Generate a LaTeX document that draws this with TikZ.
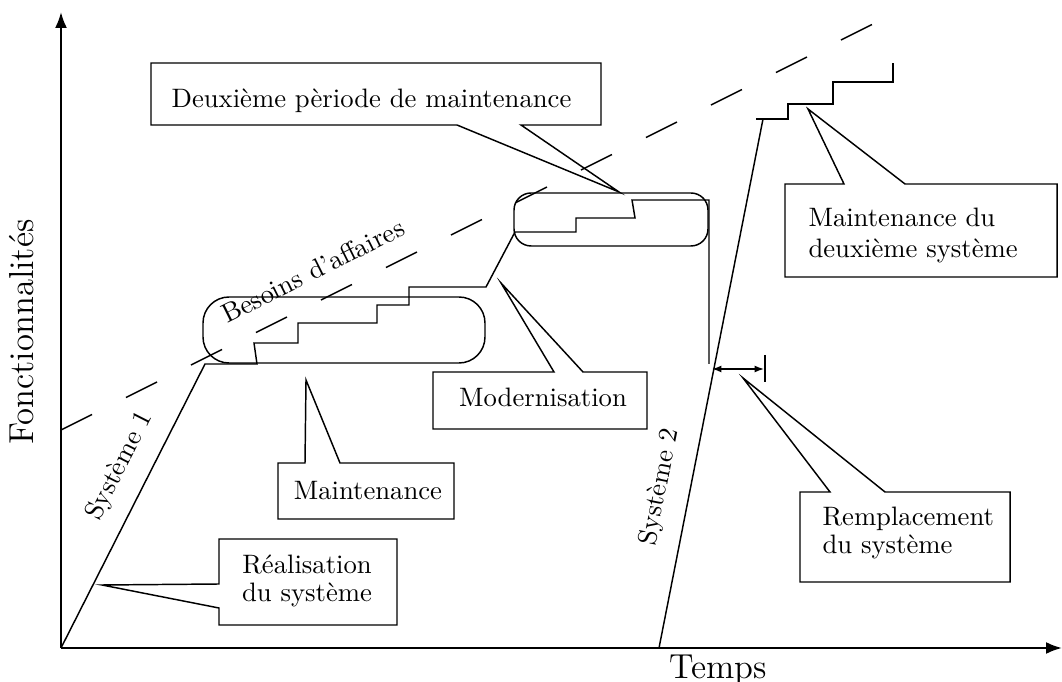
\documentclass[tikz,border=0pt]{standalone}
\usetikzlibrary{arrows.meta}
\begin{document}
\begin{tikzpicture}[x=0.375pt, y=-0.375pt,
  thinline/.style={line width=0.55pt, line join=miter},
  axisline/.style={line width=0.85pt, -{Latex[length=6pt,width=4.5pt]}},
  needline/.style={line width=0.55pt, dash pattern=on 13pt off 14.25pt},
  callout/.style={draw, line width=0.55pt, line join=miter},
  txt/.style={font=\fontsize{10}{10.5}\selectfont, inner sep=0pt},
  axislabel/.style={font=\fontsize{13}{15}\selectfont, inner sep=0pt},
  gap/.style={{Latex[length=3.5pt,width=2.6pt]}-{Latex[length=3.5pt,width=2.6pt]}, line width=0.55pt}
]
\useasboundingbox (0,0) rectangle (1062,682);

% axes
\coordinate (O) at (61,648);
\coordinate (ytip) at (61,12);
\coordinate (xtip) at (1062,648);
\draw[axisline] (O) -- (ytip);
\draw[axisline] (O) -- (xtip);
\node[axislabel, rotate=90] (fonc) at (22,332) {Fonctionnalités};
\node[axislabel, anchor=base] (temps) at (718,679) {Temps};

% business needs trend
\coordinate (need0) at (61,430);
\coordinate (need1) at (877,22);
\draw[needline] (need0) -- (need1);
\node[txt, rotate=26.57, anchor=base] (besoins) at (317,279) {Besoins d’affaires};

% maintenance periods
\draw[thinline, rounded corners=9.75pt] (203,297) rectangle (485,363);
\draw[thinline, rounded corners=6.4pt] (514,193) rectangle (708,246);

% first system: build, maintenance, modernisation, second maintenance
\draw[thinline] (O) -- (205,364) -- (257,364) -- (254,343) -- (298,343)
  -- (298,323) -- (377,323) -- (377,305) -- (409,305) -- (409,287)
  -- (486,287) -- (515,232) -- (576,232) -- (576,218) -- (635,218)
  -- (632,200) -- (709,200) -- (709,364);
\node[txt, rotate=63.1] (sys1) at (120,466) {Système 1};

% second system
\draw[thinline] (659,648) -- (763,119);
\draw[thinline] (756,119) -- (788,119) -- (788,104) -- (833,104)
  -- (833,82) -- (893,82) -- (893,63);
\node[txt, rotate=78.8] (sys2) at (660,487) {Système 2};

% replacement interval
\draw[gap] (712,369) -- (764,369);
\draw[thinline] (765,355) -- (765,382);

% callouts
\draw[callout] (151,63) -- (601,63) -- (601,125) -- (521,125) -- (619,192)
  -- (457,125) -- (151,125) -- cycle;
\node[txt, anchor=base] (deux) at (371.5,108) {Deuxième pèriode de maintenance};

\draw[callout] (785,184) -- (844,184) -- (808,109) -- (905,184) -- (1057,184)
  -- (1057,277) -- (785,277) -- cycle;
\node[txt, anchor=base west, align=left] (maint2) at (808,258)
  {Maintenance du\\[1.2pt]deuxième système};

\draw[callout] (800,492) -- (830,492) -- (743,378) -- (885,492) -- (1010,492)
  -- (1010,582) -- (800,582) -- cycle;
\node[txt, anchor=base west, align=left] (rempl) at (822,554)
  {Remplacement\\du système};

\draw[callout] (433,372) -- (554,372) -- (501,283) -- (583,372) -- (647,372)
  -- (647,429) -- (433,429) -- cycle;
\node[txt, anchor=base] (modern) at (543,407) {Modernisation};

\draw[callout] (278,463) -- (305,463) -- (306,380) -- (340,463) -- (454,463)
  -- (454,519) -- (278,519) -- cycle;
\node[txt, anchor=base] (maint) at (368,500) {Maintenance};

\draw[callout] (219,539) -- (397,539) -- (397,625) -- (219,625) -- (219,608)
  -- (102,585) -- (219,584) -- cycle;
\node[txt, anchor=base, align=center] (real) at (307,602)
  {Réalisation\\du système};
\end{tikzpicture}
\end{document}
